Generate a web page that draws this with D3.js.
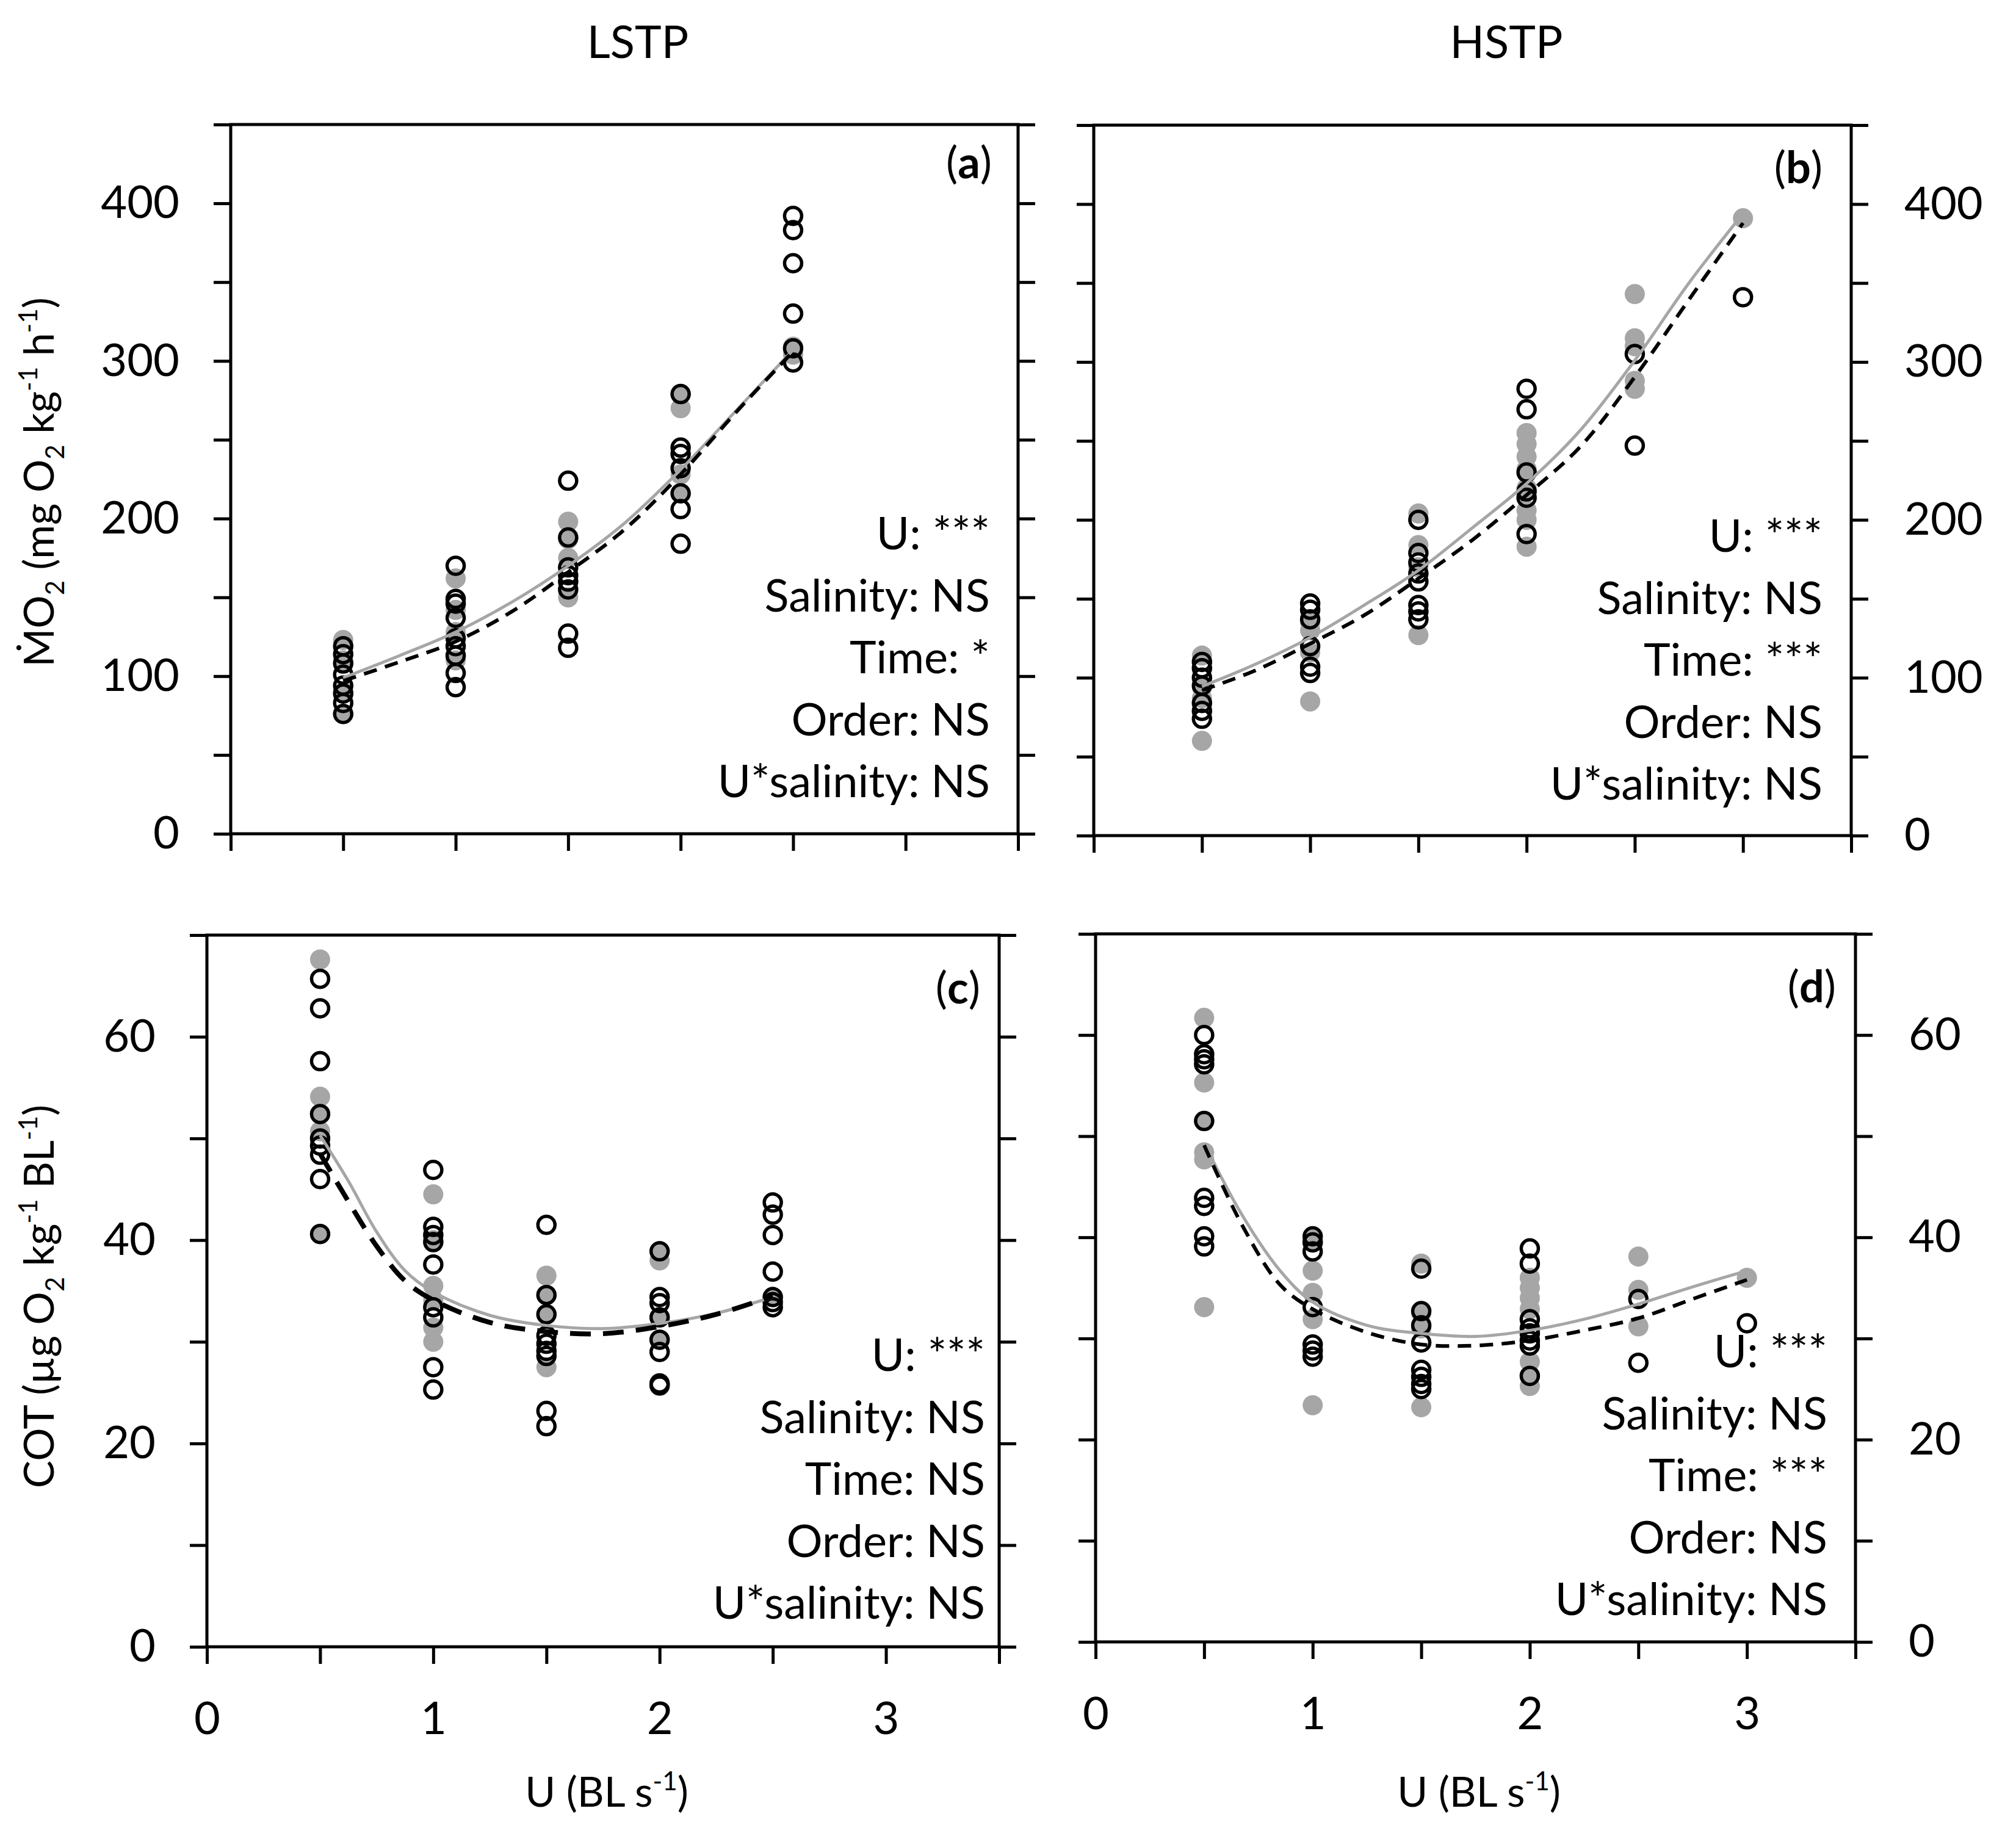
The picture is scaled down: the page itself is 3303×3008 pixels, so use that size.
<!DOCTYPE html>
<html>
<head>
<meta charset="utf-8">
<script src="https://cdn.jsdelivr.net/npm/d3@7"></script>
<style>
  body { margin: 0; background: #fff; }
  svg text { font-family: Lato, "Open Sans", sans-serif; fill: #000; }
</style>
</head>
<body>
<svg id="chart" width="3303" height="3008"></svg>
<script>
// swimming speeds (BL s-1), one column of points per speed
const uLevels = [0.5, 1, 1.5, 2, 2.5, 3];

// MO2, LSTP (panel a)
const mo2LstpGrey = [[123, 110, 90, 76], [162, 142, 128, 110], [198, 187, 175, 150], [279, 270, 228, 216], [309, 304]];
const mo2LstpOpen = [[119, 114, 108, 101, 94, 89, 83, 76], [170, 149, 146, 137, 124, 119, 113, 102, 93],
  [224, 188, 169, 164, 160, 155, 127, 118], [279, 245, 241, 232, 216, 206, 184], [392, 383, 362, 330, 308, 299]];
const fitUa = [0.5, 0.75, 1, 1.25, 1.5, 1.75, 2, 2.25, 2.5];
const mo2LstpFitGrey = [99, 113, 128, 147, 170, 197, 231, 269, 307];
const mo2LstpFitDash = [97, 109, 122, 141, 166, 193, 228, 268, 306];

// MO2, HSTP (panel b)
const mo2HstpGrey = [[114, 94, 87, 60], [135, 130, 116, 85], [204, 184, 170, 127],
  [255, 248, 240, 232, 220, 206, 200, 183], [343, 315, 310, 288, 283], [391]];
const mo2HstpOpen = [[110, 106, 100, 95, 84, 79, 74], [147, 143, 137, 120, 107, 103],
  [200, 179, 173, 166, 161, 146, 142, 137], [283, 270, 230, 218, 214, 191], [305, 247], [341]];
const fitUb = [0.5, 0.75, 1, 1.25, 1.5, 1.75, 2, 2.25, 2.5, 2.75, 3];
const mo2HstpFitGrey = [94.5, 108.7, 125.5, 146, 168, 195, 223, 257, 301, 350, 394];
const mo2HstpFitDash = [92, 104.8, 121.6, 139.6, 162.8, 187.3, 215.7, 246.6, 290.5, 339.4, 388];

// COT, LSTP (panel c)
const cotLstpGrey = [[67.6, 54.1, 52.4, 50.7, 40.6], [44.5, 40.0, 35.5, 34.1, 31.4, 30.0],
  [36.5, 34.6, 32.7, 27.5], [38.9, 38.0, 32.4, 30.2], [34.4]];
const cotLstpOpen = [[65.7, 62.8, 57.6, 52.4, 50.0, 49.3, 48.4, 46.0, 40.6],
  [46.9, 41.3, 40.5, 39.8, 37.6, 33.4, 32.4, 27.5, 25.3],
  [41.5, 34.6, 32.7, 30.6, 29.8, 29.1, 28.6, 23.2, 21.7],
  [38.9, 34.4, 33.8, 32.4, 30.2, 29.0, 25.9, 25.7], [43.7, 42.5, 40.5, 36.9, 34.4, 33.9, 33.4]];
const fitUc = [0.5, 0.625, 0.75, 0.875, 1, 1.25, 1.5, 1.75, 2, 2.25, 2.5];
const cotLstpFitGrey = [50.3, 45.8, 40.8, 37.0, 34.9, 32.6, 31.6, 31.3, 31.8, 32.8, 34.4];
const cotLstpFitDash = [48.5, 43.8, 39.4, 36.0, 34.1, 31.9, 31.0, 30.8, 31.5, 32.7, 34.5];

// COT, HSTP (panel d)
const cotHstpGrey = [[61.7, 55.3, 51.5, 48.4, 47.7, 33.1], [39.8, 36.7, 34.5, 31.9, 23.4],
  [37.4, 32.5, 31.0, 23.2], [36.0, 35.0, 34.0, 32.9, 27.7, 26.3, 25.3], [38.1, 34.8, 31.2], [36.0]];
const cotHstpOpen = [[60.0, 58.1, 57.6, 57.1, 51.5, 43.9, 43.1, 40.1, 39.1],
  [40.1, 39.5, 38.6, 33.1, 29.4, 28.8, 28.2], [36.9, 32.7, 31.3, 29.6, 26.9, 26.2, 25.5, 25.0],
  [38.9, 37.4, 31.9, 31.0, 30.5, 29.8, 29.3, 26.3], [33.9, 27.6], [31.5]];
const fitUd = [0.5, 0.675, 0.85, 1, 1.25, 1.5, 1.75, 2, 2.25, 2.5, 2.75, 3];
const cotHstpFitGrey = [49.3, 42.2, 36.7, 33.6, 31.3, 30.5, 30.2, 30.8, 31.9, 33.4, 35.1, 36.7];
const cotHstpFitDash = [49.1, 41.2, 35.3, 32.9, 30.6, 29.4, 29.3, 29.8, 30.8, 32.0, 33.9, 35.8];

// statistics text
const statsA = ['U: ***', 'Salinity: NS', 'Time: *', 'Order: NS', 'U*salinity: NS'];
const statsB = ['U: ***', 'Salinity: NS', 'Time: ***', 'Order: NS', 'U*salinity: NS'];
const statsC = ['U: ***', 'Salinity: NS', 'Time: NS', 'Order: NS', 'U*salinity: NS'];
const statsD = ['U: ***', 'Salinity: NS', 'Time: ***', 'Order: NS', 'U*salinity: NS'];

const GREY = '#a6a6a6';
const TICK = 28;
const svg = d3.select('#chart');
svg.append('rect').attr('width', 3303).attr('height', 3008).attr('fill', '#fff');

const panels = [
  {tag: 'a', left: 378, right: 1668, top: 204, bottom: 1366, yMax: 450, yStep: 50, yLabStep: 100,
   ySide: 'left', xLabels: false, grey: mo2LstpGrey, open: mo2LstpOpen,
   fitU: fitUa, fitGrey: mo2LstpFitGrey, fitDash: mo2LstpFitDash, dash: '22,14', dashW: 6,
   stats: statsA, statsX: 1622, statsY: 900, tagX: 1625, tagY: 292},
  {tag: 'b', left: 1792, right: 3033, top: 205, bottom: 1369, yMax: 450, yStep: 50, yLabStep: 100,
   ySide: 'right', xLabels: false, grey: mo2HstpGrey, open: mo2HstpOpen,
   fitU: fitUb, fitGrey: mo2HstpFitGrey, fitDash: mo2HstpFitDash, dash: '22,14', dashW: 6,
   stats: statsB, statsX: 2986, statsY: 904, tagX: 2986, tagY: 300},
  {tag: 'c', left: 339, right: 1637, top: 1532, bottom: 2698, yMax: 70, yStep: 10, yLabStep: 20,
   ySide: 'left', xLabels: true, grey: cotLstpGrey, open: cotLstpOpen,
   fitU: fitUc, fitGrey: cotLstpFitGrey, fitDash: cotLstpFitDash, dash: '34,20', dashW: 8,
   stats: statsC, statsX: 1614, statsY: 2246, tagX: 1606, tagY: 1644},
  {tag: 'd', left: 1795, right: 3040, top: 1530, bottom: 2690, yMax: 70, yStep: 10, yLabStep: 20,
   ySide: 'right', xLabels: true, grey: cotHstpGrey, open: cotHstpOpen,
   fitU: fitUd, fitGrey: cotHstpFitGrey, fitDash: cotHstpFitDash, dash: '22,14', dashW: 6,
   stats: statsD, statsX: 2994, statsY: 2240, tagX: 3008, tagY: 1642}
];

function styleAxis(g) {
  g.select('.domain').remove();
  g.attr('font-family', 'Lato, "Open Sans", sans-serif').attr('font-size', 74);
  g.selectAll('.tick line').attr('stroke', '#000').attr('stroke-width', 5);
}

function drawPanel(p) {
  const x = d3.scaleLinear().domain([0, 3.5]).range([p.left, p.right]);
  const y = d3.scaleLinear().domain([0, p.yMax]).range([p.bottom, p.top]);
  const g = svg.append('g');

  const yTicks = d3.range(0, p.yMax + 0.001, p.yStep);
  const yFmt = d => (d % p.yLabStep === 0 && d < p.yMax) ? d : '';
  const none = () => '';

  g.append('g').attr('transform', `translate(${p.left},0)`)
    .call(d3.axisLeft(y).tickValues(yTicks).tickSize(TICK).tickPadding(56)
      .tickFormat(p.ySide === 'left' ? yFmt : none))
    .call(styleAxis);
  g.append('g').attr('transform', `translate(${p.right},0)`)
    .call(d3.axisRight(y).tickValues(yTicks).tickSize(TICK).tickPadding(59)
      .tickFormat(p.ySide === 'right' ? yFmt : none))
    .call(styleAxis);
  const xAxis = g.append('g').attr('transform', `translate(0,${p.bottom})`)
    .call(d3.axisBottom(x).tickValues(d3.range(0, 3.51, 0.5)).tickSize(TICK).tickPadding(40)
      .tickFormat(d => (p.xLabels && Number.isInteger(d) && d < 3.5) ? d : ''))
    .call(styleAxis);
  xAxis.selectAll('.tick text').attr('dy', '0.71em').attr('y', TICK + 62);

  // plot frame
  g.append('rect')
    .attr('x', p.left).attr('y', p.top)
    .attr('width', p.right - p.left).attr('height', p.bottom - p.top)
    .attr('fill', 'none').attr('stroke', '#000').attr('stroke-width', 5);

  const greyPts = p.grey.flatMap((vals, i) => vals.map(v => ({u: uLevels[i], v})));
  const openPts = p.open.flatMap((vals, i) => vals.map(v => ({u: uLevels[i], v})));

  g.append('g').selectAll('circle').data(greyPts).join('circle')
    .attr('cx', d => x(d.u)).attr('cy', d => y(d.v)).attr('r', 16.5)
    .attr('fill', GREY);
  g.append('g').selectAll('circle').data(openPts).join('circle')
    .attr('cx', d => x(d.u)).attr('cy', d => y(d.v)).attr('r', 14)
    .attr('fill', 'none').attr('stroke', '#000').attr('stroke-width', 5.5);

  const line = d3.line().x(d => x(d[0])).y(d => y(d[1])).curve(d3.curveCatmullRom.alpha(0.5));
  g.append('path').attr('d', line(p.fitU.map((u, i) => [u, p.fitGrey[i]])))
    .attr('fill', 'none').attr('stroke', GREY).attr('stroke-width', 5);
  g.append('path').attr('d', line(p.fitU.map((u, i) => [u, p.fitDash[i]])))
    .attr('fill', 'none').attr('stroke', '#000').attr('stroke-width', p.dashW)
    .attr('stroke-dasharray', p.dash);

  // statistics block
  p.stats.forEach((s, i) => {
    g.append('text').attr('x', p.statsX).attr('y', p.statsY + i * 101.5)
      .attr('text-anchor', 'end').attr('font-size', 74).text(s);
  });

  // panel tag, e.g. (a)
  const t = g.append('text').attr('x', p.tagX).attr('y', p.tagY)
    .attr('text-anchor', 'end').attr('font-size', 72);
  t.append('tspan').text('(');
  t.append('tspan').attr('font-weight', 'bold').text(p.tag);
  t.append('tspan').text(')');
}

panels.forEach(drawPanel);

// text with sub/superscripts
function richText(sel, parts, size) {
  let shift = 0;
  parts.forEach(([txt, kind]) => {
    const target = kind === 'sub' ? size * 0.25 : kind === 'sup' ? -size * 0.4 : 0;
    sel.append('tspan').attr('dy', target - shift)
      .attr('font-size', kind ? size * 0.62 : size).text(txt);
    shift = target;
  });
}

// column titles
svg.append('text').attr('x', 1045).attr('y', 95).attr('text-anchor', 'middle')
  .attr('font-size', 74).text('LSTP');
svg.append('text').attr('x', 2468).attr('y', 95).attr('text-anchor', 'middle')
  .attr('font-size', 74).text('HSTP');

// y axis titles
const yLab1 = svg.append('text').attr('transform', 'translate(88,790) rotate(-90)')
  .attr('text-anchor', 'middle').attr('font-size', 68);
richText(yLab1, [['\u1E40O', ''], ['2', 'sub'], [' (mg O', ''], ['2', 'sub'], [' kg', ''],
  ['-1', 'sup'], [' h', ''], ['-1', 'sup'], [')', '']], 68);

const yLab2 = svg.append('text').attr('transform', 'translate(88,2124) rotate(-90)')
  .attr('text-anchor', 'middle').attr('font-size', 68);
richText(yLab2, [['COT (\u00B5g O', ''], ['2', 'sub'], [' kg', ''], ['-1', 'sup'],
  [' BL', ''], ['-1', 'sup'], [')', '']], 68);

// x axis titles
[994, 2423].forEach(cx => {
  const xl = svg.append('text').attr('x', cx).attr('y', 2960)
    .attr('text-anchor', 'middle').attr('font-size', 68);
  richText(xl, [['U (BL s', ''], ['-1', 'sup'], [')', '']], 68);
});
</script>
</body>
</html>
